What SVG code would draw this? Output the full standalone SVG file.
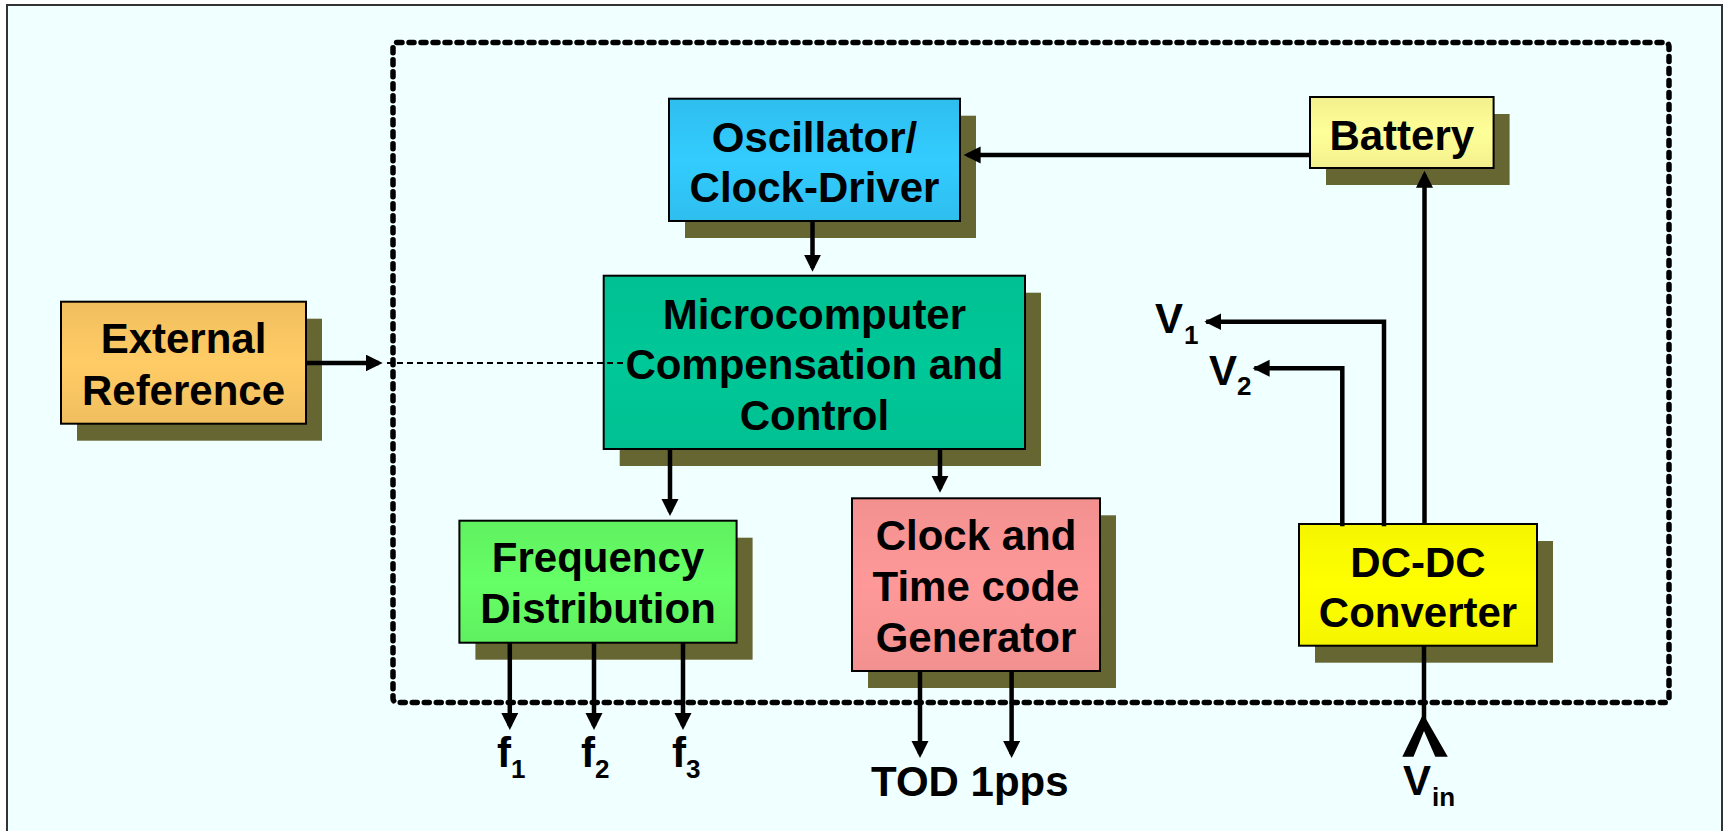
<svg xmlns="http://www.w3.org/2000/svg" width="1725" height="831" viewBox="0 0 1725 831">
<style>
.box{stroke:#000;stroke-width:2}
.shadow{fill:#666633}
.lbl{font-family:"Liberation Sans",Arial,sans-serif;font-weight:bold;font-size:42px;fill:#000;text-anchor:middle}
.out{font-family:"Liberation Sans",Arial,sans-serif;font-weight:bold;font-size:42px;fill:#000}
.sub{font-size:26px}
.wire{fill:none;stroke:#000;stroke-width:4.5}
.arr{marker-end:url(#ah)}
</style>
<defs>
<marker id="ah" markerUnits="userSpaceOnUse" markerWidth="18" markerHeight="18" refX="13" refY="8.5" orient="auto">
<path d="M0,0 L17,8.5 L0,17 z" fill="#000"/>
</marker>
<linearGradient id="gExt" x1="0" y1="0" x2="0" y2="1"><stop offset="0" stop-color="#F0BE5E"/><stop offset="0.5" stop-color="#FFCC66"/><stop offset="1" stop-color="#F0BE5E"/></linearGradient>
<linearGradient id="gBat" x1="0" y1="0" x2="0" y2="1"><stop offset="0" stop-color="#F2F08C"/><stop offset="0.5" stop-color="#FFFF99"/><stop offset="1" stop-color="#F2F08C"/></linearGradient>
<linearGradient id="gOsc" x1="0" y1="0" x2="0" y2="1"><stop offset="0" stop-color="#2EBEEE"/><stop offset="0.5" stop-color="#33CCFF"/><stop offset="1" stop-color="#2EBEEE"/></linearGradient>
<linearGradient id="gMic" x1="0" y1="0" x2="0" y2="1"><stop offset="0" stop-color="#00C092"/><stop offset="0.5" stop-color="#00C898"/><stop offset="1" stop-color="#00C092"/></linearGradient>
<linearGradient id="gFrq" x1="0" y1="0" x2="0" y2="1"><stop offset="0" stop-color="#60F060"/><stop offset="0.5" stop-color="#66FF66"/><stop offset="1" stop-color="#60F060"/></linearGradient>
<linearGradient id="gClk" x1="0" y1="0" x2="0" y2="1"><stop offset="0" stop-color="#F29090"/><stop offset="0.5" stop-color="#FF9999"/><stop offset="1" stop-color="#F29090"/></linearGradient>
<linearGradient id="gDC" x1="0" y1="0" x2="0" y2="1"><stop offset="0" stop-color="#F5F500"/><stop offset="0.5" stop-color="#FFFF00"/><stop offset="1" stop-color="#F5F500"/></linearGradient>
</defs>
<rect x="0" y="0" width="1725" height="831" fill="#FFFFFF"/>
<rect x="7" y="5" width="1715" height="850" fill="#F0FFFF" stroke="#333333" stroke-width="2"/>
<g id="enclosure">
<rect x="393" y="42.5" width="1276" height="660" rx="4" fill="none" stroke="#000" stroke-width="5.5" stroke-dasharray="5 7" stroke-linecap="round"/>
</g>
<g id="external-reference">
<rect class="shadow" x="77" y="318.7" width="245" height="122"/>
<rect class="box" x="61" y="301.7" width="245" height="122" fill="url(#gExt)"/>
<text class="lbl" x="183.5" y="353">External</text>
<text class="lbl" x="183.5" y="405">Reference</text>
</g>
<g id="oscillator">
<rect class="shadow" x="685" y="115.7" width="291" height="122.3"/>
<rect class="box" x="669" y="98.7" width="291" height="122.3" fill="url(#gOsc)"/>
<text class="lbl" x="814.5" y="152">Oscillator/</text>
<text class="lbl" x="814.5" y="202">Clock-Driver</text>
</g>
<g id="battery">
<rect class="shadow" x="1326" y="114" width="183.6" height="71"/>
<rect class="box" x="1310" y="97" width="183.6" height="71" fill="url(#gBat)"/>
<text class="lbl" x="1401.8" y="150">Battery</text>
</g>
<g id="microcomputer">
<rect class="shadow" x="619.7" y="292.7" width="421.3" height="173.3"/>
<rect class="box" x="603.7" y="275.7" width="421.3" height="173.3" fill="url(#gMic)"/>
<text class="lbl" x="814.4" y="329">Microcomputer</text>
<text class="lbl" x="814.4" y="379">Compensation and</text>
<text class="lbl" x="814.4" y="430">Control</text>
</g>
<g id="frequency-distribution">
<rect class="shadow" x="475.4" y="537.7" width="277.2" height="122"/>
<rect class="box" x="459.4" y="520.7" width="277.2" height="122" fill="url(#gFrq)"/>
<text class="lbl" x="598" y="571.7">Frequency</text>
<text class="lbl" x="598" y="623.3">Distribution</text>
</g>
<g id="clock-time-code">
<rect class="shadow" x="868" y="515.3" width="248" height="172.7"/>
<rect class="box" x="852" y="498.3" width="248" height="172.7" fill="url(#gClk)"/>
<text class="lbl" x="976" y="550">Clock and</text>
<text class="lbl" x="976" y="601">Time code</text>
<text class="lbl" x="976" y="651.7">Generator</text>
</g>
<g id="dc-dc-converter">
<rect class="shadow" x="1315" y="541" width="238" height="121.7"/>
<rect class="box" x="1299" y="524" width="238" height="121.7" fill="url(#gDC)"/>
<text class="lbl" x="1418" y="576.7">DC-DC</text>
<text class="lbl" x="1418" y="627">Converter</text>
</g>
<g id="connectors">
<path class="wire arr" d="M1310,155 H967.6"/>
<path class="wire arr" d="M812.5,221 V267.7"/>
<path class="wire arr" d="M306,363 H378.7"/>
<path d="M387,363 H624" fill="none" stroke="#000" stroke-width="2" stroke-dasharray="6 4"/>
<path class="wire arr" d="M670,449 V512"/>
<path class="wire arr" d="M940,449 V488.7"/>
<path class="wire arr" d="M509.8,642.7 V726"/>
<path class="wire arr" d="M594,642.7 V726"/>
<path class="wire arr" d="M683,642.7 V726"/>
<path class="wire arr" d="M920,671 V754"/>
<path class="wire arr" d="M1011.6,671 V754"/>
<path class="wire arr" d="M1424.5,524 V174.7"/>
<path class="wire arr" d="M1384,524 V321.7 H1208.4" stroke-linejoin="miter" stroke-linecap="square"/>
<path class="wire arr" d="M1342.3,524 V368.3 H1256.6" stroke-linejoin="miter" stroke-linecap="square"/>
<path class="wire" d="M1424,645.7 V720"/>
<polygon points="1423.2,714 1402.3,756.7 1413.5,756.7 1424,731 1435.3,756.7 1447.8,756.7" fill="#000"/>
</g>
<g id="labels">
<text class="out" x="1155" y="333">V<tspan class="sub" x="1184" y="344">1</tspan></text>
<text class="out" x="1209" y="385">V<tspan class="sub" x="1237" y="395">2</tspan></text>
<text class="out" x="497" y="767">f<tspan class="sub" x="511" y="778">1</tspan></text>
<text class="out" x="581" y="767">f<tspan class="sub" x="595" y="778">2</tspan></text>
<text class="out" x="672" y="767">f<tspan class="sub" x="686" y="778">3</tspan></text>
<text class="out" x="871" y="796">TOD 1pps</text>
<text class="out" x="1403" y="795">V<tspan class="sub" x="1432" y="806">in</tspan></text>
</g>
</svg>
